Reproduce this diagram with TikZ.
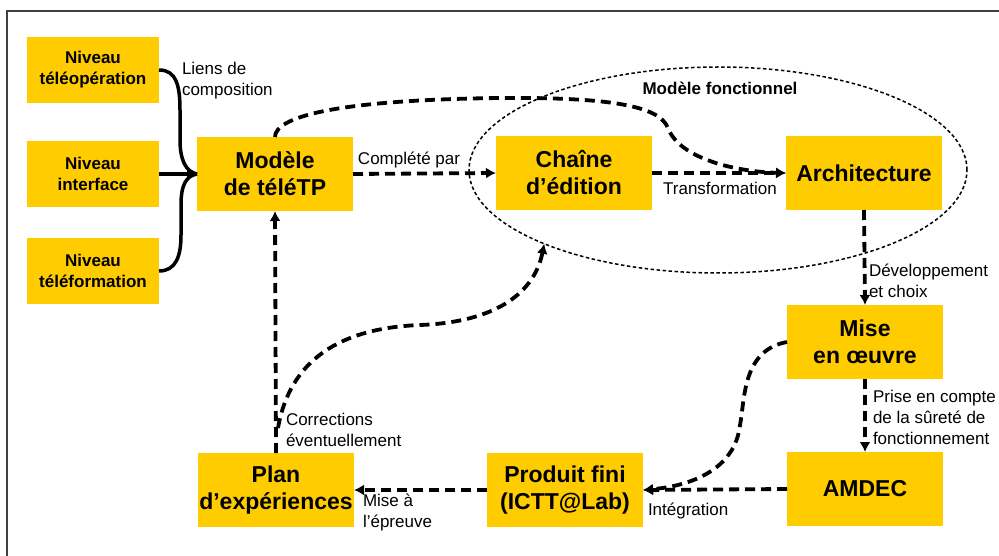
\documentclass[tikz,border=0pt]{standalone}
\usepackage{fontspec}
\setmainfont{Liberation Sans}
\usetikzlibrary{shapes.geometric,arrows.meta}
\definecolor{jaune}{HTML}{FFCC00}

\tikzset{
  boite/.style={fill=jaune, minimum width=156pt, minimum height=74pt, align=center, font=\bfseries\fontsize{23}{27}\selectfont},
  niveau/.style={boite, minimum width=132pt, minimum height=66pt, font=\bfseries\fontsize{17}{21}\selectfont},
  etiq/.style={font=\fontsize{17}{21}\selectfont, align=left, anchor=west},
  trait/.style={line width=3.5pt},
  lien/.style={line width=3.8pt, dash pattern=on 10pt off 6pt, -{Latex[length=10pt,width=11pt]}}
}

\begin{document}
\begin{tikzpicture}[x=1pt, y=-1pt, every node/.style={inner sep=0pt, outer sep=0pt}]
                \useasboundingbox (0,0) rectangle (999,556);
                \draw[line width=1.2pt, black!75] (7,556) -- (7,11) -- (999,11);

                % Zone du modele fonctionnel
                \node[ellipse, draw, line width=1.5pt, dash pattern=on 3.5pt off 2.5pt, minimum width=498pt, minimum height=206pt] (fonct) at (718,170) {};
                \node[font=\bfseries\fontsize{17}{21}\selectfont] (titre) at (720,88) {Modèle fonctionnel};

                \node[niveau] (niv1) at (93,70) {Niveau\\téléopération};
                \node[niveau] (niv2) at (93,174) {Niveau\\interface};
                \node[niveau] (niv3) at (93,271) {Niveau\\téléformation};

                \node[boite] (modele) at (275,174) {Modèle\\de téléTP};
                \node[boite] (chaine) at (574,173) {Chaîne\\d’édition};
                \node[boite] (archi) at (864,173) {Architecture};
                \node[boite] (mise) at (865,342) {Mise\\en œuvre};
                \node[boite] (amdec) at (865,489) {AMDEC};
                \node[boite] (produit) at (565,490) {Produit fini\\(ICTT@Lab)};
                \node[boite] (plan) at (276,490) {Plan\\d’expériences};

                % Liens de composition
                \draw[trait] (niv1.east) .. controls (176,70) and (180,85) .. (180,110) -- (180,140) .. controls (180,160) and (186,172) .. (modele.west);
                \draw[trait] (niv3.east) .. controls (176,271) and (181,256) .. (181,235) -- (181,205) .. controls (181,185) and (186,176) .. (modele.west);
                \draw[trait, -{Latex[length=10pt,width=11pt]}] (niv2.east) -- (modele.west);
                \node[etiq] (lcomp) at (182,81) {Liens de\\composition};

                \draw[lien] (modele.east) -- (chaine.west);
                \node[font=\fontsize{17}{21}\selectfont] (lcompl) at (409,160) {Complété par};
                \draw[lien] (chaine.east) -- (archi.west);
                \node[font=\fontsize{17}{21}\selectfont] (ltransf) at (720,188) {Transformation};
                \draw[lien] (modele.north) .. controls (275,118) and (330,100) .. (500,98) .. controls (620,97) and (660,108) .. (668,128) .. controls (680,160) and (740,172) .. (archi.west);

                \draw[lien] (archi.south) -- (mise.north);
                \node[etiq] (ldev) at (869,281) {Développement\\et choix};
                \draw[lien] (mise.south) -- (amdec.north);
                \node[etiq] (lprise) at (873,417) {Prise en compte\\de la sûreté de\\fonctionnement};

                \draw[lien] (amdec.west) -- (produit.east);
                \node[etiq] (linteg) at (648,511) {Intégration};
                \draw[lien] (mise.west) .. controls (742,350) and (745,400) .. (740,425) .. controls (735,470) and (690,486) .. (produit.east);

                \draw[lien] (produit.west) -- (plan.east);
                \node[etiq] (lepreuve) at (363,513) {Mise à\\l’épreuve};

                \draw[lien] (plan.north) -- (modele.south);
                \node[etiq] (lcorr) at (286,430) {Corrections\\éventuellement};
                \coordinate (coin) at (278,428);
                \draw[lien] (coin) .. controls (290,360) and (340,328) .. (420,325) .. controls (500,322) and (535,290) .. (fonct.203);
\end{tikzpicture}
\end{document}
